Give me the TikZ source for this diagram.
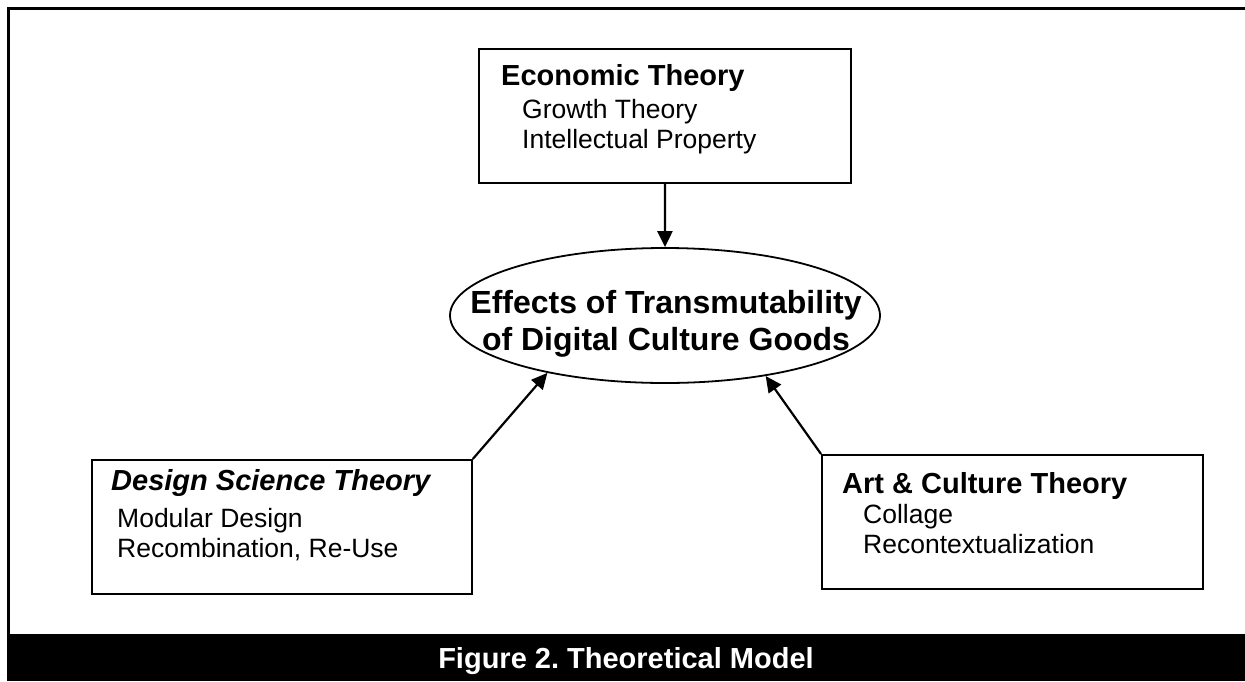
\documentclass[tikz,border=0pt]{standalone}
\usepackage{fontspec}
\setmainfont{Liberation Sans}
\frenchspacing
\usetikzlibrary{shapes.geometric,arrows.meta}
\begin{document}
\begin{tikzpicture}[x=1pt,y=-1pt,
  box/.style={draw,line width=1.8pt,inner sep=0pt,anchor=north west},
  ttl/.style={anchor=base west,inner sep=0pt,font=\fontsize{29}{34}\selectfont\bfseries},
  sub/.style={anchor=base west,inner sep=0pt,font=\fontsize{26.5}{30}\selectfont},
  cen/.style={anchor=base,inner sep=0pt,font=\fontsize{32}{37}\selectfont\bfseries},
  arr/.style={line width=2.2pt,-{Triangle[length=16pt,width=15pt]}}]
\useasboundingbox (0,0) rectangle (1245,681);
% frame and caption bar
\node[fill=black,anchor=north west,minimum width=1238pt,minimum height=47pt,inner sep=0pt] (bar) at (7,634) {};
\coordinate (fl) at (8.2,634);
\coordinate (fr) at (1245,8.2);
\draw[line width=3pt] (fl) |- (fr);
\node[anchor=base,inner sep=0pt,text=white,font=\fontsize{29}{34}\selectfont\bfseries] (cap) at (626,668) {Figure 2. Theoretical Model};
% boxes
\node[box,minimum width=372pt,minimum height=134pt] (tb) at (478,48) {};
\node[box,minimum width=380pt,minimum height=134pt] (lb) at (91,459) {};
\node[box,minimum width=381pt,minimum height=134pt] (rb) at (821,454) {};
\node[draw,ellipse,line width=1.8pt,minimum width=430pt,minimum height=135pt,inner sep=0pt] (el) at (665,315.5) {};
% texts
\node[ttl] (t1) at (501,85) {Economic Theory};
\node[sub] (t2) at (522,118) {Growth Theory};
\node[sub] (t3) at (522,148) {Intellectual Property};
\node[ttl,font=\fontsize{29}{34}\selectfont\bfseries\itshape] (l1) at (111,490) {Design Science Theory};
\node[sub] (l2) at (117,527) {Modular Design};
\node[sub] (l3) at (117,557) {Recombination, Re-Use};
\node[ttl] (r1) at (842,493) {Art \& Culture Theory};
\node[sub] (r2) at (863,523) {Collage};
\node[sub] (r3) at (863,553) {Recontextualization};
\node[cen] (e1) at (666,313) {Effects of Transmutability};
\node[cen] (e2) at (666,350) {of Digital Culture Goods};
% arrows
\draw[arr] (tb.south) -- (el.north);
\draw[arr] (lb.north east) -- (el.206.6);
\draw[arr] (rb.north west) -- (el.329.9);
\end{tikzpicture}
\end{document}
